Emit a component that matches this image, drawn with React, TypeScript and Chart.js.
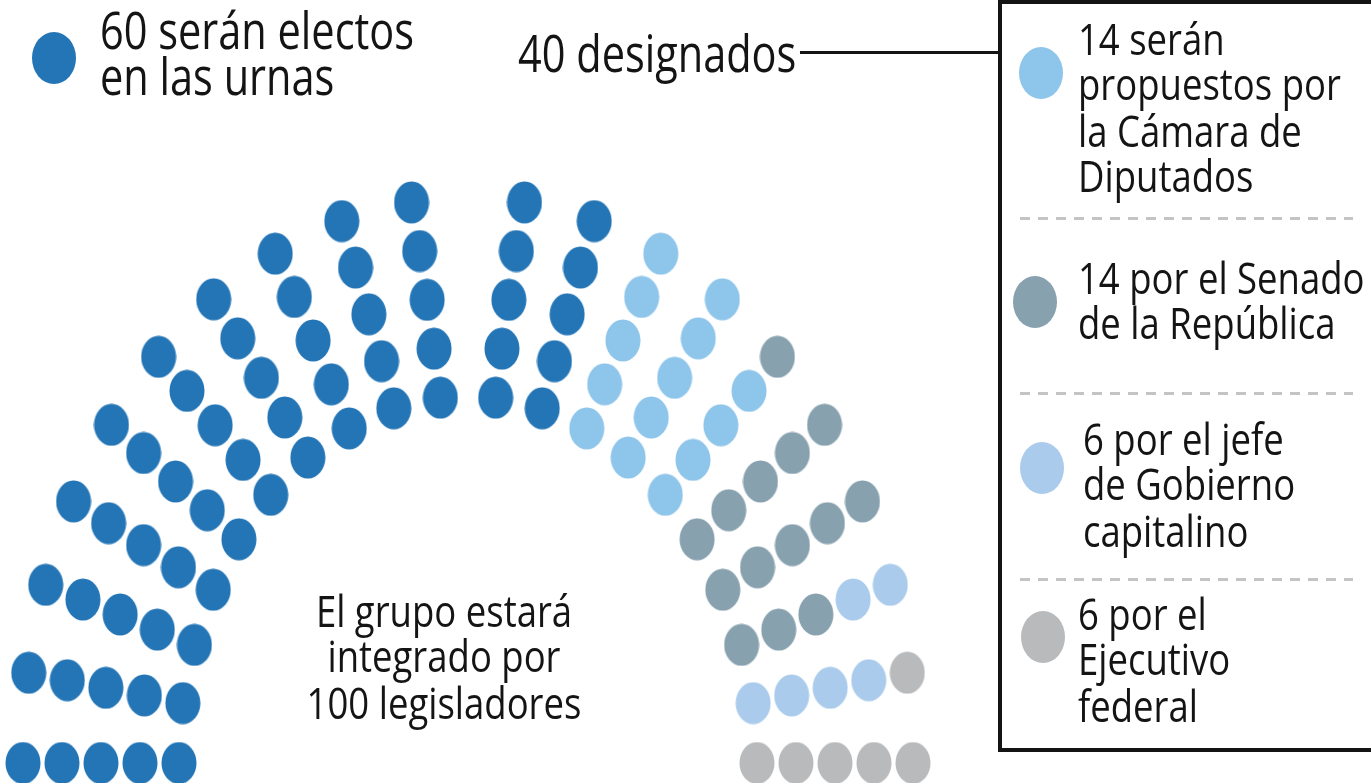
import React, { useEffect, useRef } from "react";
import { Chart, registerables } from "chart.js";

Chart.register(...registerables);

// ---- data ----
const groupLabels = [
  "Electos en las urnas",
  "Propuestos por la Cámara de Diputados",
  "Senado de la República",
  "Jefe de Gobierno capitalino",
  "Ejecutivo federal",
];
const groupSeats = [60, 14, 14, 6, 6];
const groupColors = ["#2475b6", "#8ec5ea", "#87a1af", "#aacbec", "#b9babc"];

const legendTexts = [
  "14 serán\npropuestos por\nla Cámara de\nDiputados",
  "14 por el Senado\nde la República",
  "6 por el jefe\nde Gobierno\ncapitalino",
  "6 por el\nEjecutivo\nfederal",
];
const headerElected = "60 serán electos\nen las urnas";
const headerDesignated = "40 designados";
const centerText = "El grupo estará\nintegrado por\n100 legisladores";

// ---- layout constants (not data) ----
const W = 1371;
const H = 783;
const SPOKES = 20;
const ROWS = 5;
const OUTER_R = 445;
const ROW_GAP = 39;
const OUTER_STEP = 9.19;
const STEP_GROWTH = 0.05;
const Y_STRETCH = 1.27;
const CX = 468;
const CY = 763;

function seatLayout() {
  const seats: { x: number; y: number }[] = [];
  const half = SPOKES / 2;
  for (let k = 0; k < SPOKES; k++) {
    for (let j = ROWS - 1; j >= 0; j--) {
      const step = OUTER_STEP + j * STEP_GROWTH;
      const deg = k < half ? 180 - k * step : (SPOKES - 1 - k) * step;
      const rad = (deg * Math.PI) / 180;
      const r = OUTER_R - j * ROW_GAP;
      seats.push({ x: r * Math.cos(rad), y: r * Math.sin(rad) });
    }
  }
  return seats;
}

function dotImage(color: string) {
  const c = document.createElement("canvas");
  c.width = 36;
  c.height = 43;
  const g = c.getContext("2d")!;
  g.fillStyle = color;
  g.beginPath();
  g.ellipse(18, 21.5, 17.5, 21, 0, 0, Math.PI * 2);
  g.fill();
  return c;
}

const textBase: React.CSSProperties = {
  position: "absolute",
  fontFamily: '"Open Sans", sans-serif',
  color: "#141414",
  whiteSpace: "pre",
  transformOrigin: "0 0",
  transform: "scaleY(1.22)",
  margin: 0,
};

function Dot({ x, y, color }: { x: number; y: number; color: string }) {
  return (
    <div
      style={{
        position: "absolute",
        left: x - 22,
        top: y - 26,
        width: 44,
        height: 52,
        borderRadius: "50%",
        background: color,
      }}
    />
  );
}

function Dashed({ y }: { y: number }) {
  return (
    <div
      style={{
        position: "absolute",
        left: 1020,
        top: y - 1,
        width: 333,
        height: 3,
        backgroundImage:
          "repeating-linear-gradient(to right, #c4c4c4 0 10px, transparent 10px 18px)",
      }}
    />
  );
}

export default function App() {
  const ref = useRef<HTMLCanvasElement | null>(null);

  useEffect(() => {
    const seats = seatLayout();
    let idx = 0;
    const datasets = groupSeats.map((n, gi) => {
      const pts = seats.slice(idx, idx + n);
      idx += n;
      return {
        label: groupLabels[gi],
        data: pts,
        pointStyle: dotImage(groupColors[gi]) as any,
        pointRadius: 18,
        backgroundColor: groupColors[gi],
        borderWidth: 0,
        clip: false as any,
      };
    });
    const chart = new Chart(ref.current!, {
      type: "scatter",
      data: { datasets },
      options: {
        animation: false,
        responsive: false,
        events: [],
        layout: { padding: 0, autoPadding: false },
        plugins: { legend: { display: false }, tooltip: { enabled: false } },
        scales: {
          x: { type: "linear", display: false, min: -CX, max: W - CX },
          y: {
            type: "linear",
            display: false,
            min: -(H - CY) / Y_STRETCH,
            max: CY / Y_STRETCH,
          },
        },
      },
    });
    return () => chart.destroy();
  }, []);

  return (
    <div
      style={{
        position: "absolute",
        left: 0,
        top: 0,
        width: W,
        height: H,
        background: "#fff",
        overflow: "hidden",
      }}
    >
      <canvas
        ref={ref}
        width={W}
        height={H}
        style={{ position: "absolute", left: 0, top: 0, width: W, height: H }}
      />

      {/* header: elected */}
      <Dot x={54} y={58} color={groupColors[0]} />
      <div style={{ ...textBase, left: 100, top: 8, fontSize: 41.5, lineHeight: "37px" }}>
        {headerElected}
      </div>

      {/* header: designated */}
      <div style={{ ...textBase, left: 518, top: 31, fontSize: 41.5, lineHeight: "37px" }}>
        {headerDesignated}
      </div>
      <div style={{ position: "absolute", left: 800, top: 51, width: 200, height: 3, background: "#141414" }} />

      {/* legend box */}
      <div
        style={{
          position: "absolute",
          left: 998,
          top: 0,
          width: 420,
          height: 752,
          border: "4px solid #141414",
          boxSizing: "border-box",
        }}
      />
      <Dot x={1041} y={73} color={groupColors[1]} />
      <div style={{ ...textBase, left: 1078, top: 16, fontSize: 36.5, lineHeight: "37.3px" }}>
        {legendTexts[0]}
      </div>
      <Dashed y={218} />
      <Dot x={1035} y={302} color={groupColors[2]} />
      <div style={{ ...textBase, left: 1078, top: 255, fontSize: 36.5, lineHeight: "37.3px" }}>
        {legendTexts[1]}
      </div>
      <Dashed y={393} />
      <Dot x={1042} y={468} color={groupColors[3]} />
      <div style={{ ...textBase, left: 1083, top: 416, fontSize: 36.5, lineHeight: "37.3px" }}>
        {legendTexts[2]}
      </div>
      <Dashed y={579} />
      <Dot x={1043} y={637} color={groupColors[4]} />
      <div style={{ ...textBase, left: 1078, top: 591, fontSize: 36.5, lineHeight: "37.3px" }}>
        {legendTexts[3]}
      </div>

      {/* center note */}
      <div
        style={{
          ...textBase,
          left: 244,
          top: 588,
          width: 400,
          textAlign: "center",
          transformOrigin: "50% 0",
          fontSize: 36.5,
          lineHeight: "37.3px",
        }}
      >
        {centerText}
      </div>
    </div>
  );
}
